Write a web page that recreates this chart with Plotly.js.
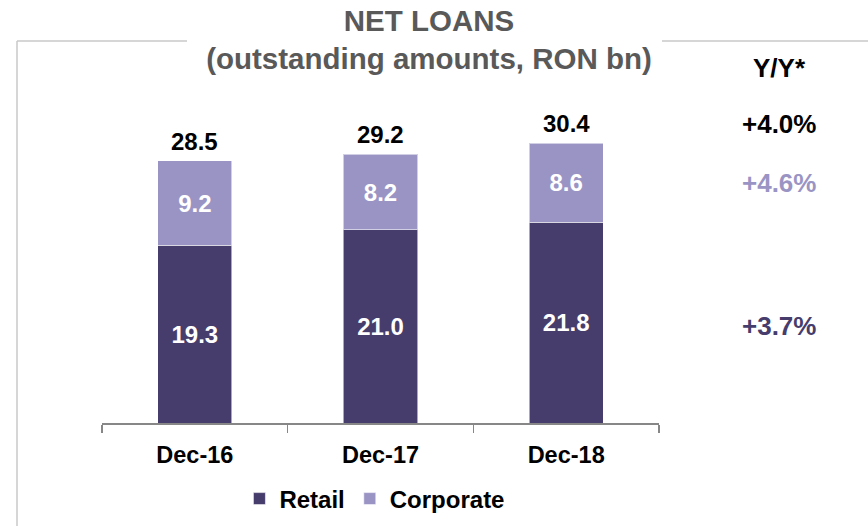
<!DOCTYPE html>
<html>
<head>
<meta charset="utf-8">
<script src="https://cdn.plot.ly/plotly-3.0.1.min.js"></script>
<style>html,body{margin:0;padding:0;background:#fff;}#chart{width:868px;height:526px;}</style>
</head>
<body>
<div id="chart"></div>
<script>
const categories = ['Dec-16', 'Dec-17', 'Dec-18'];
const retail = [19.3, 21.0, 21.8];
const corporate = [9.2, 8.2, 8.6];
const totals = [28.5, 29.2, 30.4];
const yoyLabels = ['Y/Y*', '+4.0%', '+4.6%', '+3.7%'];

const RETAIL_C = '#463d6d';
const CORP_C = '#9a94c4';
const FONT = '"Liberation Sans", Arial, sans-serif';

const W = 868, H = 526, L = 102, R = 209, T = 60, B = 103;
const plotW = W - L - R, plotH = H - T - B;
const px2x = p => (p - L) / plotW;
const py2y = p => (H - B - p) / plotH;

const traces = [
  {
    type: 'bar', name: 'Retail', x: categories, y: retail,
    marker: {color: RETAIL_C, line: {color: 'rgba(255,255,255,0.55)', width: 1}},
    text: retail.map(v => v.toFixed(1)), textposition: 'inside', insidetextanchor: 'middle',
    textfont: {family: FONT, size: 24, color: '#ffffff', weight: 'bold'},
    constraintext: 'none', hoverinfo: 'none'
  },
  {
    type: 'bar', name: 'Corporate', x: categories, y: corporate,
    marker: {color: CORP_C, line: {color: 'rgba(255,255,255,0.55)', width: 1}},
    text: corporate.map(v => v.toFixed(1)), textposition: 'inside', insidetextanchor: 'middle',
    textfont: {family: FONT, size: 24, color: '#ffffff', weight: 'bold'},
    constraintext: 'none', hoverinfo: 'none'
  }
];

const annotations = categories.map((c, i) => ({
  x: c, y: totals[i], xref: 'x', yref: 'y', text: totals[i].toFixed(1),
  showarrow: false, yanchor: 'bottom', yshift: 4,
  font: {family: FONT, size: 24, color: '#000000', weight: 'bold'}
}));

const yoyColors = ['#000000', '#000000', CORP_C, RETAIL_C];
const yoyPy = [68, 124, 183, 326];
yoyLabels.forEach((t, i) => {
  annotations.push({
    x: px2x(779), y: py2y(yoyPy[i]), xref: 'paper', yref: 'paper', text: t,
    showarrow: false, xanchor: 'center', yanchor: 'middle',
    font: {family: FONT, size: 26, color: yoyColors[i], weight: 'bold'}
  });
});

const frame = {color: '#c8c8c8', width: 1.5};
const shapes = [
  {type: 'line', xref: 'paper', yref: 'paper', x0: px2x(17), x1: px2x(187), y0: py2y(41), y1: py2y(41), line: frame},
  {type: 'line', xref: 'paper', yref: 'paper', x0: px2x(662), x1: px2x(870), y0: py2y(41), y1: py2y(41), line: frame},
  {type: 'line', xref: 'paper', yref: 'paper', x0: px2x(17), x1: px2x(17), y0: py2y(41), y1: py2y(528), line: frame}
];

const layout = {
  width: W, height: H,
  margin: {l: L, r: R, t: T, b: B, pad: 0, autoexpand: false},
  paper_bgcolor: '#ffffff', plot_bgcolor: '#ffffff',
  barmode: 'stack', bargap: 0.6,
  title: {
    text: 'NET LOANS<br>(outstanding amounts, RON bn)',
    font: {family: FONT, size: 29.5, color: '#595959', weight: 'bold'},
    x: 429 / W, xanchor: 'center',
    y: 1 - 31 / H, yanchor: 'middle', yref: 'container'
  },
  xaxis: {
    type: 'category', showline: true, linecolor: '#878787', linewidth: 1.5,
    ticks: 'outside', tickson: 'boundaries', ticklen: 8, tickcolor: '#878787', tickwidth: 1.5,
    ticklabelstandoff: 10, automargin: false,
    showgrid: false, zeroline: false,
    tickfont: {family: FONT, size: 23.5, color: '#000000', weight: 'bold'}
  },
  yaxis: {range: [0, plotH / 9.2], visible: false, showgrid: false, zeroline: false},
  showlegend: true,
  legend: {
    orientation: 'h', x: 0.49, xanchor: 'center',
    yref: 'container', y: 1 - 499 / H, yanchor: 'middle',
    font: {family: FONT, size: 24, color: '#000000', weight: 'bold'},
    itemclick: false, itemdoubleclick: false, traceorder: 'normal'
  },
  annotations: annotations,
  shapes: shapes
};

Plotly.newPlot('chart', traces, layout, {displayModeBar: false, staticPlot: true});
</script>
</body>
</html>
